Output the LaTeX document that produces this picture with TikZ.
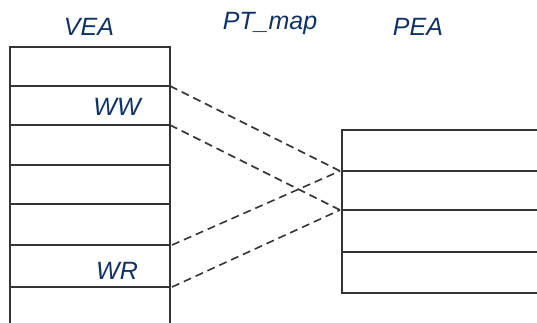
\documentclass[tikz,border=0pt]{standalone}
\usepackage{fontspec}
\setmainfont{Liberation Sans}
\definecolor{labelblue}{RGB}{14,50,102}
\definecolor{boxgray}{RGB}{52,52,52}
\begin{document}
\begin{tikzpicture}[x=1pt,y=-1pt,
  boxline/.style={draw=boxgray,line width=2.1pt},
  mapline/.style={draw=boxgray,line width=1.6pt,dash pattern=on 8pt off 5pt},
  lbl/.style={text=labelblue,font=\fontsize{25}{29}\selectfont\itshape,anchor=base,inner sep=0pt}]
\useasboundingbox (0,0) rectangle (537,323);
\clip (0,0) rectangle (537,323);
% VEA column
\draw[boxline] (10,330) -- (10,47) -- (170,47) -- (170,330);
\foreach \y in {86,125,165,204,245,287} \draw[boxline] (10,\y) -- (171,\y);
% PEA column
\draw[boxline] (545,130) -- (342,130) -- (342,293) -- (545,293);
\foreach \y in {171,210,252} \draw[boxline] (342,\y) -- (545,\y);
% connector end points
\coordinate (ww1) at (170,86);
\coordinate (ww2) at (170,125);
\coordinate (wr1) at (172,245);
\coordinate (wr2) at (172,287);
\coordinate (pa) at (340,171);
\coordinate (pb) at (340,210);
\draw[mapline] (ww1) -- (pa);
\draw[mapline] (ww2) -- (pb);
\draw[mapline] (wr1) -- (pa);
\draw[mapline] (wr2) -- (pb);
% labels
\node[lbl] (vea) at (89,36) {VEA};
\node[lbl] (ptmap) at (270,30) {PT\_map};
\node[lbl] (pea) at (418,36) {PEA};
\node[lbl] (ww) at (117,116) {WW};
\node[lbl] (wr) at (117,279) {WR};
\end{tikzpicture}
\end{document}
